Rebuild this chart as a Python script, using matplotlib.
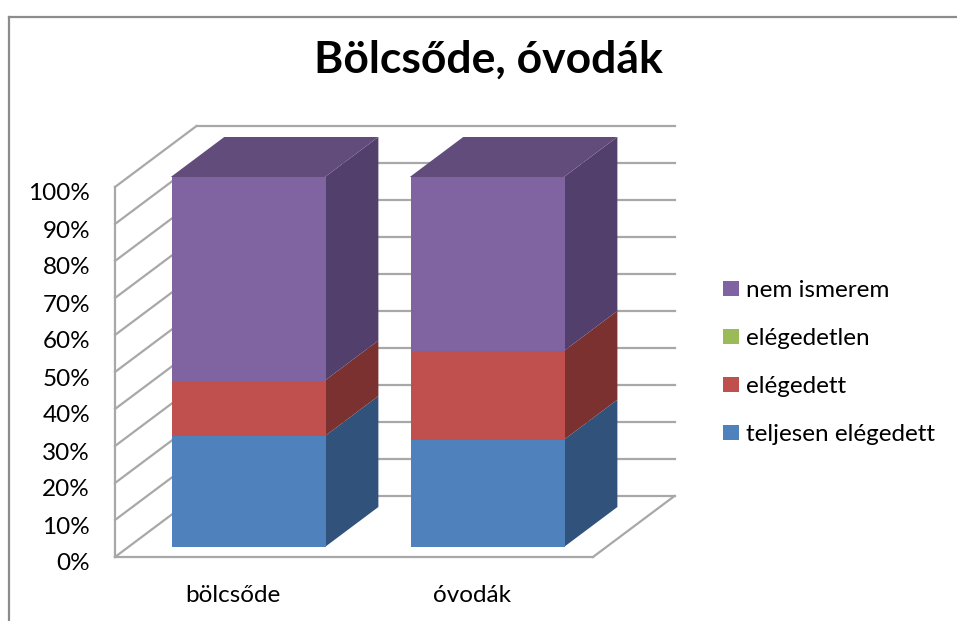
import matplotlib
matplotlib.use("Agg")
import matplotlib.pyplot as plt
from matplotlib.lines import Line2D
from matplotlib.transforms import Affine2D
import numpy as np

categories = ["bölcsőde", "óvodák"]
series_names = ["teljesen elégedett", "elégedett", "elégedetlen", "nem ismerem"]
teljesen = [30, 29]
elegedett = [15, 24]
elegedetlen = [0, 0]
nem_ismerem = [55, 47]
series_values = [teljesen, elegedett, elegedetlen, nem_ismerem]
front_colors = ["#4F81BD", "#C0504D", "#9BBB59", "#8064A2"]
side_colors = ["#31527A", "#7A312F", "#647A38", "#533F6B"]
top_color = "#624C7C"
y_ticks = list(range(0, 101, 10))
y_labels = [f"{v}%" for v in y_ticks]
title = "Bölcsőde, óvodák"

W, H = 957, 621
plt.rcParams["font.family"] = ["Lato", "DejaVu Sans"]
fig = plt.figure(figsize=(W / 100, H / 100), dpi=100)
L, R, B, T = 115, 593, 557, 187
ax = fig.add_axes([L / W, 1 - B / H, (R - L) / W, (B - T) / H])
ax.set_xlim(0, 2)
ax.set_ylim(0, 100)
for s in ax.spines.values():
    s.set_visible(False)
ax.patch.set_alpha(0)

PX = (R - L) / 2
PY = (B - T) / 100
DX, DY = 81.5 / PX, 61 / PY
D0, D1 = 10 / 61, 50 / 61
WALL = "#a8a8a8"
FS = 17.5


def proj(x, y, d):
    return x + d * DX, y + d * DY


def seg(p, q):
    ax.plot([p[0], q[0]], [p[1], q[1]], color=WALL, lw=1.6, clip_on=False,
            solid_capstyle="projecting", zorder=1)


for v in y_ticks:
    seg(proj(0, v, 0), proj(0, v, 1))
    seg(proj(0, v, 1), proj(2, v, 1))
seg((0, 0), (0, 100))
seg((0, 0), (2, 0))
seg((2, 0), proj(2, 0, 1))

xs = np.arange(len(categories)) + 0.5
bw = 0.645
front_tf = ax.transData + Affine2D().translate(D0 * 81.5 + 1, 10)

bottoms = np.zeros(len(categories))
handles = []
for vals, fc, sc, name in zip(series_values, front_colors, side_colors, series_names):
    vals = np.array(vals, dtype=float)
    for x, b, v in zip(xs, bottoms, vals):
        if v <= 0:
            continue
        xr = x + bw / 2
        p = [proj(xr, b, D0), proj(xr, b, D1), proj(xr, b + v, D1), proj(xr, b + v, D0)]
        ax.fill(*zip(*p), color=sc, lw=0, clip_on=False, zorder=2)
    h = ax.bar(xs, vals, bw, bottom=bottoms, color=fc, lw=0, transform=front_tf,
               clip_on=False, zorder=3, label=name)
    handles.append(h)
    bottoms = bottoms + vals

for x, t in zip(xs, bottoms):
    xl, xr = x - bw / 2, x + bw / 2
    p = [proj(xl, t, D0), proj(xr, t, D0), proj(xr, t, D1), proj(xl, t, D1)]
    ax.fill(*zip(*p), color=top_color, lw=0, clip_on=False, zorder=3)

ax.set_xlim(0, 2)
ax.set_ylim(0, 100)
ax.set_yticks(y_ticks, y_labels, fontsize=FS, color="black")
ax.set_xticks(xs, categories, fontsize=FS, color="black")
ax.tick_params(axis="y", length=0, pad=18)
ax.tick_params(axis="x", length=0, pad=20)
for lab in ax.get_yticklabels():
    lab.set_transform(lab.get_transform() + Affine2D().translate(0, -5))
for lab in ax.get_xticklabels():
    lab.set_transform(lab.get_transform() + Affine2D().translate(-1.5, 0))

fig.text(488 / W, 1 - 60 / H, title, fontsize=32, fontweight="bold", ha="center", va="center", color="black")

leg = ax.legend(handles[::-1], series_names[::-1], loc="upper left",
                bbox_to_anchor=(723 / W, 1 - 280 / H), bbox_transform=fig.transFigure,
                frameon=False, fontsize=FS, handlelength=0.66, handleheight=0.62,
                handletextpad=0.29, labelspacing=1.11, borderpad=0, borderaxespad=0)

fig.add_artist(Line2D([9 / W, 9 / W], [0, 1 - 17 / H], color="#8c8c8c", lw=1.6, transform=fig.transFigure))
fig.add_artist(Line2D([9 / W, 1], [1 - 17 / H, 1 - 17 / H], color="#8c8c8c", lw=1.6, transform=fig.transFigure))

fig.savefig("out.png", dpi=100)
